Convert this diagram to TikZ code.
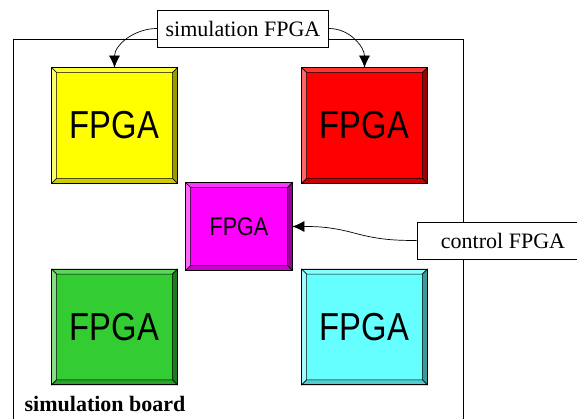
\documentclass[tikz,border=0pt]{standalone}
\usepackage{fontspec}
\setmainfont{Liberation Serif}
\newfontfamily\chipfont{Liberation Sans}
\usepackage{graphicx}
\usepackage{tikz}
\usetikzlibrary{arrows.meta}
\definecolor{chipyellow}{RGB}{255,255,0}
\definecolor{chipred}{RGB}{255,0,0}
\definecolor{chipmagenta}{RGB}{255,0,255}
\definecolor{chipgreen}{RGB}{51,204,51}
\definecolor{chipcyan}{RGB}{102,255,255}

\begin{document}
\begin{tikzpicture}[x=1pt,y=1pt,>={Latex[length=12pt,width=11pt]},line width=0.7pt]
\tikzstyle{chip}=[rectangle,draw,inner sep=0pt]
\tikzstyle{bevel}=[draw=black,line width=0.5pt]
\tikzstyle{tag}=[rectangle,draw,fill=white,inner sep=0pt,minimum height=37pt,font=\fontsize{22}{22}\selectfont]
\useasboundingbox (0,0) rectangle (577,419);
\node[draw,minimum width=449.5pt,minimum height=391pt] (board) at (238.25,184.5) {};
\node[anchor=base west,font=\bfseries\fontsize{22}{22}\selectfont] (boardname) at (21,7) {simulation board};
\foreach \name/\pos/\w/\h/\sz/\col in {{ylw/(114.5,293.5)/125/115/39/chipyellow},{red/(364.5,293.5)/125/115/39/chipred},{mag/(239,192.5)/106/87/25.6/chipmagenta},{grn/(114.5,92)/125/115/39/chipgreen},{cyn/(364.5,92)/125/115/39/chipcyan}}
{
  \node[chip,fill=\col,minimum width=\w pt,minimum height=\h pt,font=\chipfont\fontsize{\sz}{\sz}\selectfont] (\name) at \pos {\scalebox{0.84}[1]{FPGA}};
  \filldraw[bevel,fill=\col!80!white] (\name.north west) -- (\name.north east) -- ([shift={(-5,-5)}]\name.north east) -- ([shift={(5,-5)}]\name.north west) -- cycle;
  \filldraw[bevel,fill=\col!60!white] (\name.north west) -- ([shift={(5,-5)}]\name.north west) -- ([shift={(5,5)}]\name.south west) -- (\name.south west) -- cycle;
  \filldraw[bevel,fill=\col!60!black] (\name.north east) -- (\name.south east) -- ([shift={(-5,5)}]\name.south east) -- ([shift={(-5,-5)}]\name.north east) -- cycle;
  \filldraw[bevel,fill=\col!80!black] (\name.south west) -- (\name.south east) -- ([shift={(-5,5)}]\name.south east) -- ([shift={(5,5)}]\name.south west) -- cycle;
  \draw (\name.north west) rectangle (\name.south east);
}
\node[tag,minimum width=171.5pt] (simfpga) at (243,390.5) {simulation FPGA};
\node[tag,minimum width=172pt] (ctrl) at (503,178.5) {control FPGA};
\coordinate (kink) at (354,186);
\draw[->] (simfpga.west) to[out=180,in=90] (ylw.north);
\draw[->] (simfpga.east) to[out=0,in=90] (red.north);
\draw[->] (ctrl.west) to[out=180,in=-15] (kink) to[out=165,in=0] (mag.east);
\end{tikzpicture}
\end{document}
